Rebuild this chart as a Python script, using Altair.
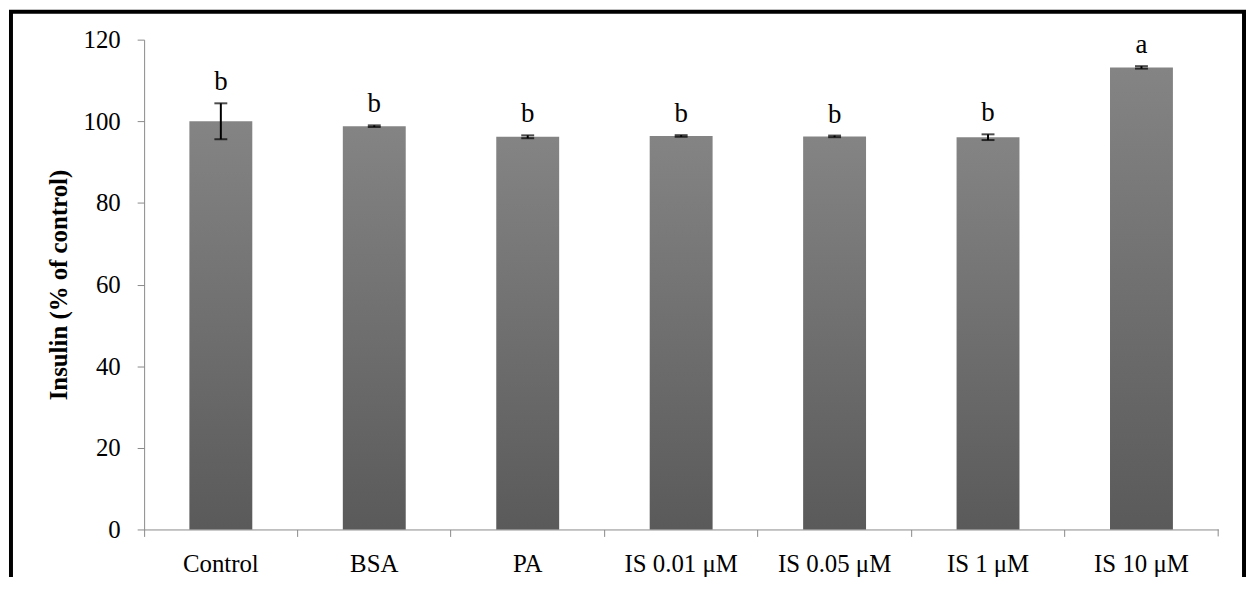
import altair as alt
import pandas as pd

categories = ["Control", "BSA", "PA", "IS 0.01 \u03bcM", "IS 0.05 \u03bcM", "IS 1 \u03bcM", "IS 10 \u03bcM"]
means = [100.0, 98.8, 96.2, 96.4, 96.3, 96.1, 113.2]
errors = [4.4, 0.2, 0.35, 0.2, 0.2, 0.7, 0.3]
letters = ["b", "b", "b", "b", "b", "b", "a"]
y_ticks = [0, 20, 40, 60, 80, 100, 120]

df = pd.DataFrame({
    "cat": categories,
    "mean": means,
    "lo": [m - e for m, e in zip(means, errors)],
    "hi": [m + e for m, e in zip(means, errors)],
    "letter": letters,
})

W, H = 1081, 493
FONT = "Liberation Serif"

xscale = alt.Scale(domain=categories, paddingInner=0, paddingOuter=0)
yscale = alt.Scale(domain=[0, 120])

base = alt.Chart(df)

bars = base.mark_bar(
    width={"band": 0.41},
    color=alt.Gradient(
        gradient="linear",
        stops=[alt.GradientStop(color="#848484", offset=0),
               alt.GradientStop(color="#5a5a5a", offset=1)],
        x1=0, x2=0, y1=0, y2=1,
    ),
).encode(
    x=alt.X("cat:N", scale=xscale, sort=categories, title=None,
            axis=alt.Axis(bandPosition=0, labelAngle=0, labelFont=FONT, labelFontSize=25,
                          labelColor="black", labelBaseline="alphabetic", labelPadding=35,
                          tickSize=7, tickColor="#898989", domainColor="#898989",
                          labelFlush=False, labelOverlap=False)),
    y=alt.Y("mean:Q", scale=yscale, title="Insulin (% of control)",
            axis=alt.Axis(values=y_ticks, grid=False, labelFont=FONT, labelFontSize=25,
                          labelColor="black", labelPadding=17, tickSize=7,
                          tickColor="#898989", domainColor="#898989",
                          titleFont=FONT, titleFontSize=25, titleFontWeight="bold",
                          titleColor="black", titlePadding=12)),
)

rules = base.mark_rule(color="black", strokeWidth=2).encode(
    x=alt.X("cat:N", scale=xscale, sort=categories),
    y=alt.Y("lo:Q", scale=yscale),
    y2="hi:Q",
)
cap_lo = base.mark_tick(color="black", thickness=2, size=13, orient="horizontal").encode(
    x=alt.X("cat:N", scale=xscale, sort=categories),
    y=alt.Y("lo:Q", scale=yscale),
)
cap_hi = base.mark_tick(color="black", thickness=2, size=13, orient="horizontal").encode(
    x=alt.X("cat:N", scale=xscale, sort=categories),
    y=alt.Y("hi:Q", scale=yscale),
)
labels = base.mark_text(font=FONT, fontSize=27, color="black", baseline="alphabetic", dy=-13).encode(
    x=alt.X("cat:N", scale=xscale, sort=categories),
    y=alt.Y("hi:Q", scale=yscale),
    text="letter:N",
)

end_tick = alt.Chart(pd.DataFrame({"k": [0]})).mark_rule(color="#898989", strokeWidth=1).encode(
    x=alt.value(W), y=alt.value(H), y2=alt.value(H + 7)
)

frame = alt.Chart(pd.DataFrame({"k": [0]})).mark_rect(
    fill="white", fillOpacity=0, stroke="black", strokeWidth=4
).encode(
    x=alt.value(-134), x2=alt.value(1107), y=alt.value(-28), y2=alt.value(640)
)

chart = alt.layer(bars, rules, cap_lo, cap_hi, labels, end_tick, frame).properties(
    width=W, height=H,
    autosize=alt.AutoSizeParams(type="none"),
    padding={"left": 137, "top": 30, "right": 28, "bottom": 46},
    background="white",
).configure_view(stroke=None)

chart.save("out.html", embed_options={"renderer": "svg", "actions": False})
